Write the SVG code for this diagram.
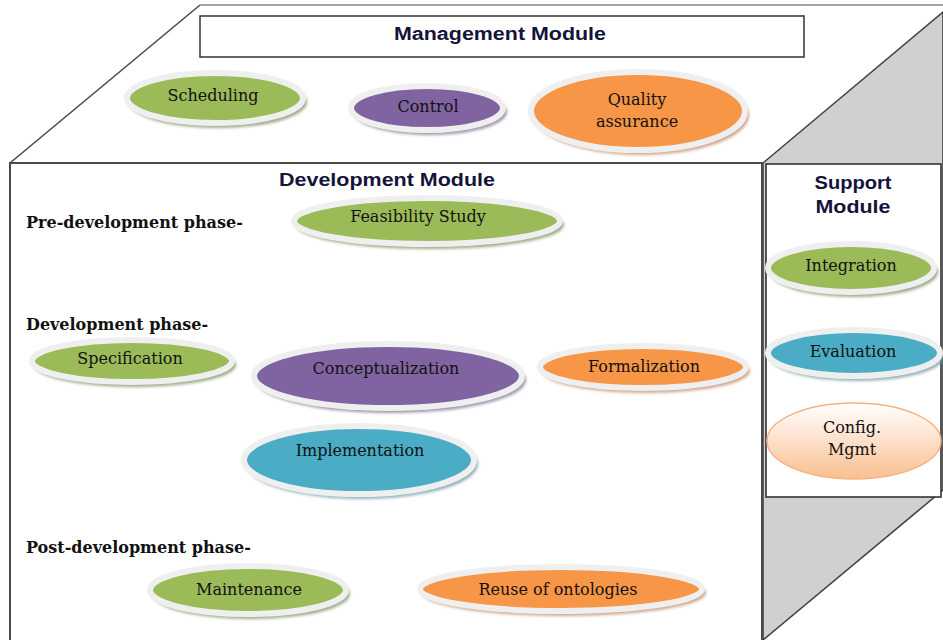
<svg xmlns="http://www.w3.org/2000/svg" width="943" height="640" viewBox="0 0 943 640">
<defs>
<filter id="blur" x="-10%" y="-20%" width="120%" height="140%"><feGaussianBlur stdDeviation="1.6"/></filter>
<linearGradient id="cfg" x1="0" y1="0" x2="0" y2="1">
<stop offset="0" stop-color="#ffffff"/>
<stop offset="0.45" stop-color="#fde3cf"/>
<stop offset="1" stop-color="#f9bf8f"/>
</linearGradient>
<style>
.edge{fill:none;stroke:#4a4a4a;stroke-width:1.6}
.rim{stroke:#efefef;stroke-width:6}
.green{fill:#9bbb59}
.purple{fill:#8064a2}
.orange{fill:#f79646}
.blue{fill:#4bacc6}
.shadow{filter:url(#blur);opacity:0.75}
.sg{fill:#7d8f5e}
.sp{fill:#7d7590}
.so{fill:#c08a68}
.sb{fill:#6d98a4}
.lbl{font-family:"DejaVu Serif","Liberation Serif",serif;font-size:16px;fill:#111;text-anchor:middle}
.phase{font-family:"DejaVu Serif","Liberation Serif",serif;font-size:16px;font-weight:bold;fill:#111}
.head{font-family:"Liberation Sans","Open Sans",sans-serif;font-size:18px;font-weight:bold;fill:#14143a;text-anchor:middle}
</style>
</defs>
<rect x="0" y="0" width="943" height="640" fill="#ffffff"/>

<g id="cube">
<polygon points="200,5 943,5 943,163 10,163" fill="#ffffff"/>
<line x1="200" y1="5" x2="943" y2="5" stroke="#a3a3a3" stroke-width="2.2"/>
<line x1="200" y1="5" x2="10" y2="163" class="edge"/>
<polygon points="763,163 943,12 943,490 763,640" fill="#d0d0d0" stroke="#444" stroke-width="1.6"/>
<rect x="10" y="163" width="752" height="490" fill="#ffffff" stroke="#4a4a4a" stroke-width="2"/>
</g>

<g id="management-module">
<rect x="200" y="16" width="604" height="41" fill="#ffffff" stroke="#404040" stroke-width="1.6"/>
<text class="head" x="500" y="40" textLength="212" lengthAdjust="spacingAndGlyphs">Management Module</text>
</g>

<g id="scheduling">
<ellipse class="shadow sg" cx="218" cy="102" rx="89" ry="26"/>
<ellipse class="green rim" cx="215" cy="98" rx="88" ry="25"/>
<text class="lbl" x="213" y="101">Scheduling</text>
</g>
<g id="control">
<ellipse class="shadow sp" cx="430" cy="112" rx="77" ry="23"/>
<ellipse class="purple rim" cx="427" cy="108" rx="76" ry="22"/>
<text class="lbl" x="428" y="112">Control</text>
</g>
<g id="quality-assurance">
<ellipse class="shadow so" cx="641" cy="115" rx="108" ry="40"/>
<ellipse class="orange rim" cx="638" cy="111" rx="107" ry="39"/>
<text class="lbl" x="637" y="105">Quality</text>
<text class="lbl" x="637" y="127">assurance</text>
</g>

<g id="development-module">
<text class="head" x="387" y="186" textLength="216" lengthAdjust="spacingAndGlyphs">Development Module</text>
<text class="phase" x="26" y="228">Pre-development phase-</text>
<text class="phase" x="26" y="330">Development phase-</text>
<text class="phase" x="26" y="553">Post-development phase-</text>
</g>

<g id="feasibility-study">
<ellipse class="shadow sg" cx="430" cy="225" rx="134" ry="24"/>
<ellipse class="green rim" cx="427" cy="221" rx="133" ry="23"/>
<text class="lbl" x="418" y="222">Feasibility  Study</text>
</g>
<g id="specification">
<ellipse class="shadow sg" cx="135" cy="365" rx="101" ry="22"/>
<ellipse class="green rim" cx="132" cy="361" rx="100" ry="21"/>
<text class="lbl" x="130" y="364">Specification</text>
</g>
<g id="conceptualization">
<ellipse class="shadow sp" cx="391" cy="380" rx="135" ry="33"/>
<ellipse class="purple rim" cx="388" cy="376" rx="134" ry="32"/>
<text class="lbl" x="386" y="374">Conceptualization</text>
</g>
<g id="formalization">
<ellipse class="shadow so" cx="646" cy="371" rx="104" ry="22"/>
<ellipse class="orange rim" cx="643" cy="367" rx="103" ry="21"/>
<text class="lbl" x="644" y="372">Formalization</text>
</g>
<g id="implementation">
<ellipse class="shadow sb" cx="362" cy="464" rx="116" ry="35"/>
<ellipse class="blue rim" cx="359" cy="460" rx="115" ry="34"/>
<text class="lbl" x="360" y="456">Implementation</text>
</g>
<g id="maintenance">
<ellipse class="shadow sg" cx="251" cy="594" rx="99" ry="25"/>
<ellipse class="green rim" cx="248" cy="590" rx="98" ry="24"/>
<text class="lbl" x="249" y="595">Maintenance</text>
</g>
<g id="reuse-of-ontologies">
<ellipse class="shadow so" cx="564" cy="593" rx="142" ry="23"/>
<ellipse class="orange rim" cx="561" cy="589" rx="141" ry="22"/>
<text class="lbl" x="558" y="595">Reuse of ontologies</text>
</g>

<g id="support-module">
<rect x="766" y="164" width="175" height="333" fill="#ffffff" stroke="#333" stroke-width="1.6"/>
<text class="head" x="853" y="189" textLength="77" lengthAdjust="spacingAndGlyphs">Support</text>
<text class="head" x="853" y="213" textLength="75" lengthAdjust="spacingAndGlyphs">Module</text>
</g>
<g id="integration">
<ellipse class="shadow sg" cx="854" cy="272" rx="84" ry="25"/>
<ellipse class="green rim" cx="851" cy="268" rx="83" ry="24"/>
<text class="lbl" x="851" y="271">Integration</text>
</g>
<g id="evaluation">
<ellipse class="shadow sb" cx="857" cy="357" rx="87" ry="24"/>
<ellipse class="blue rim" cx="854" cy="353" rx="86" ry="23"/>
<text class="lbl" x="853" y="357">Evaluation</text>
</g>
<g id="config-mgmt">
<ellipse cx="854" cy="441" rx="87" ry="38" fill="url(#cfg)" stroke="#f4b183" stroke-width="1.4"/>
<text class="lbl" x="852" y="433">Config.</text>
<text class="lbl" x="852" y="455">Mgmt</text>
</g>

<g id="connectors"/>
</svg>
